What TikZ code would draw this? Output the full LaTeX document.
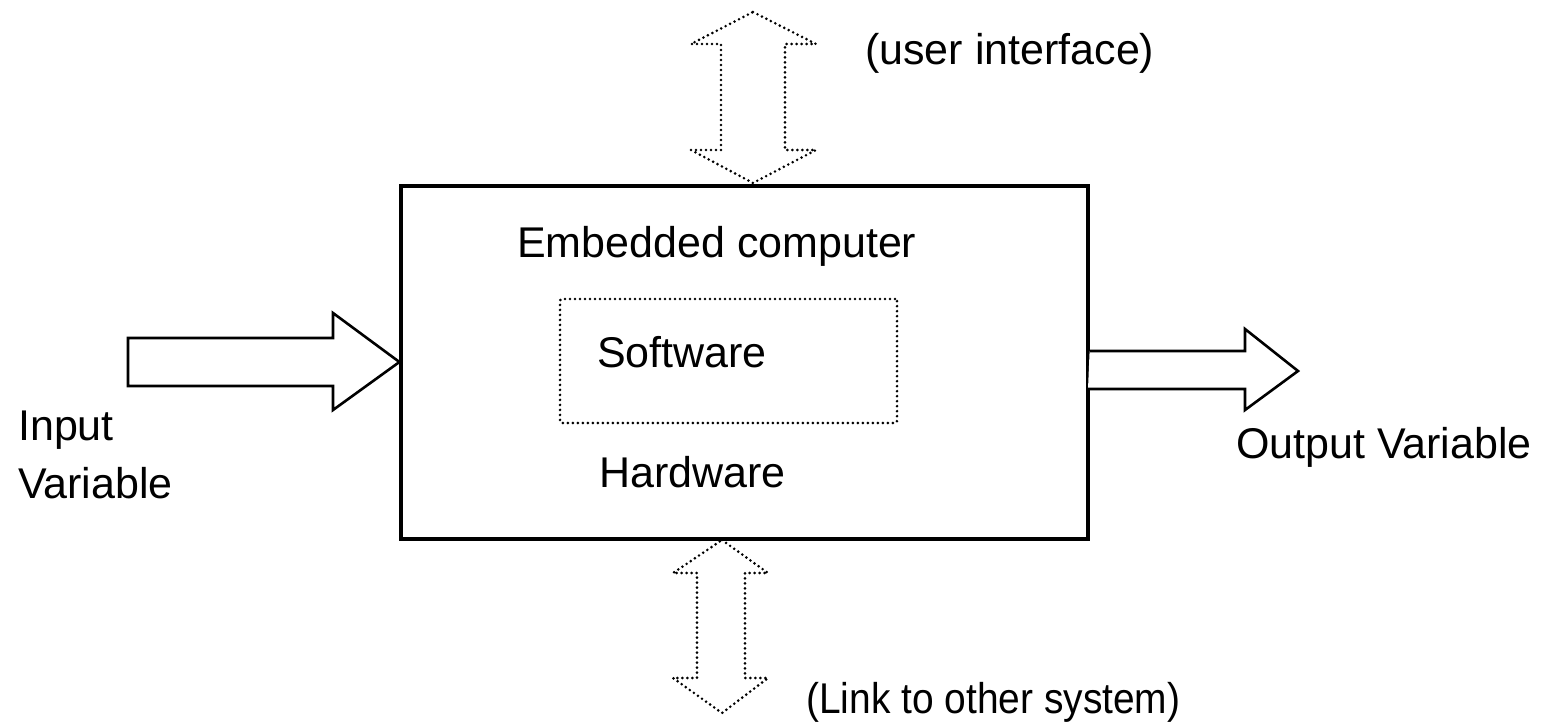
\documentclass[tikz,border=0pt]{standalone}
\usepackage{fontspec}
\setmainfont{Liberation Sans}
\newfontfamily\narrowsans[FakeStretch=0.905]{Liberation Sans}
\begin{document}
\begin{tikzpicture}[x=1pt,y=-1pt,
  lbl/.style={anchor=base west,inner sep=0pt,font=\fontsize{43}{50}\selectfont},
  blockarrow/.style={draw=black,line width=2.6pt,fill=white,line join=miter},
  dotline/.style={draw=black,line width=2.9pt,dash pattern=on 0pt off 5pt,line cap=round},
  mainbox/.style={draw=black,line width=3.2pt,fill=white,inner sep=0pt}]
\useasboundingbox (0,0) rectangle (1549,723);
% main box
\node[mainbox,minimum width=687pt,minimum height=353pt] (box) at (744.5,362.5) {};
% inner dotted box
\node[dotline,rounded corners=2pt,minimum width=337pt,minimum height=124pt,inner sep=0pt] (sw) at (728.5,361) {};
% input arrow
\coordinate (intip) at (box.west |- 0,362);
\path[blockarrow] (128,338) -- (333,338) -- (333,313) -- (intip) -- (333,410) -- (333,386) -- (128,386) -- cycle;
% output arrow
\coordinate (outbase) at (box.east |- 0,351);
\path[blockarrow] (outbase) -- (1245,351) -- (1245,329) -- (1298,371) -- (1245,410) -- (1245,389) -- (1088,389);
% top double arrow
\coordinate (toptip) at (753,12);
\coordinate (topbot) at (753,183);
\path[dotline] (toptip) -- (816,44) -- (785,44) -- (785,150) -- (816,150) -- (topbot) -- (691,150) -- (721,150) -- (721,44) -- (691,44) -- cycle;
% bottom double arrow
\coordinate (bottip) at (722,540);
\coordinate (botbot) at (722,713);
\path[dotline] (bottip) -- (768,573) -- (745,573) -- (745,678) -- (768,678) -- (botbot) -- (673,678) -- (697,678) -- (697,573) -- (673,573) -- cycle;
% labels
\node[lbl] (ui) at (865,64) {(user interface)};
\node[lbl] (emb) at (517,257) {Embedded computer};
\node[lbl] (soft) at (597,367) {Software};
\node[lbl] (hard) at (599,487) {Hardware};
\node[lbl] (in1) at (18,440) {Input};
\node[lbl] (in2) at (18,498) {Variable};
\node[lbl] (out) at (1236,458) {Output Variable};
\node[lbl,font=\fontsize{43}{50}\narrowsans] (link) at (806,713) {(Link to other system)};
\end{tikzpicture}
\end{document}
